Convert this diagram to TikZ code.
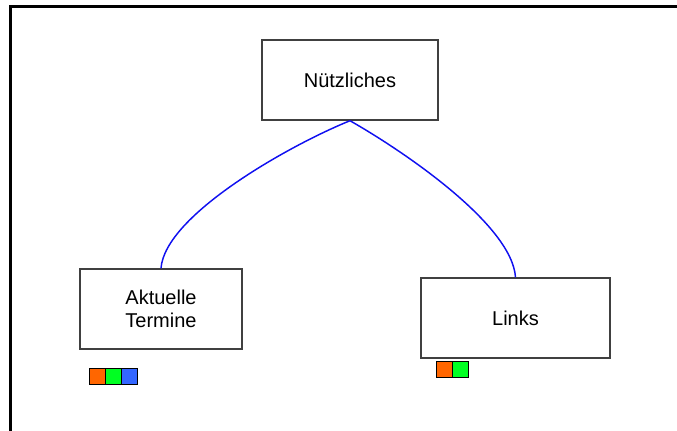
\documentclass[tikz,border=0pt]{standalone}
\usepackage{fontspec}
\setmainfont{Liberation Sans}
\definecolor{boxline}{HTML}{404040}
\definecolor{sqorange}{HTML}{FF6600}
\definecolor{sqgreen}{HTML}{00FF22}
\definecolor{sqblue}{HTML}{3366FF}
\definecolor{curveblue}{HTML}{1010F0}
\begin{document}
\begin{tikzpicture}[x=0.75pt,y=-0.75pt,
  topicbox/.style={draw=boxline, line width=1.1pt, fill=white, inner sep=0pt,
    align=center, font=\fontsize{15}{17.6}\selectfont},
  sq/.style={draw=black, line width=0.8pt, minimum width=12pt, minimum height=12pt,
    inner sep=0pt, anchor=north west},
  link/.style={draw=curveblue, line width=1.1pt}]
\useasboundingbox (0,0) rectangle (677,431);
% frame
\draw[line width=2.3pt, line cap=rect] (10.5,431) -- (10.5,6.5) -- (677,6.5);
% boxes
\node[topicbox, minimum width=132pt, minimum height=60pt] (n) at (350,80) {Nützliches};
\node[topicbox, minimum width=121.5pt, minimum height=60pt] (a) at (161,309) {Aktuelle\\Termine};
\node[topicbox, minimum width=141.75pt, minimum height=60pt] (l) at (515.5,318) {Links};
% connectors
\draw[link] (n.south) .. controls (290,145) and (165,215) .. (a.north);
\draw[link] (n.south) .. controls (405,152) and (512,225) .. (l.north);
% colour squares
\node[sq, fill=sqorange] (a1) at (89,368) {};
\node[sq, fill=sqgreen] (a2) at (105,368) {};
\node[sq, fill=sqblue] (a3) at (121,368) {};
\node[sq, fill=sqorange] (l1) at (436,361) {};
\node[sq, fill=sqgreen] (l2) at (452,361) {};
\end{tikzpicture}
\end{document}
